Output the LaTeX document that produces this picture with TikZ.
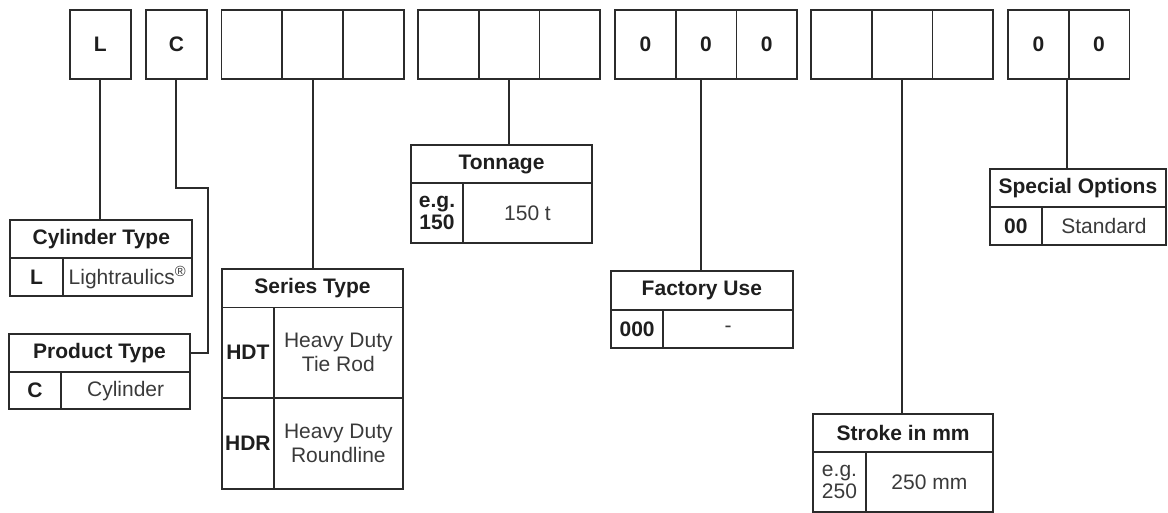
\documentclass[tikz,border=0pt]{standalone}
\usepackage{fontspec}
\setmainfont{Liberation Sans}
\definecolor{ln}{HTML}{2B2B2B}
\definecolor{tx}{HTML}{1E1E1E}
\definecolor{lt}{HTML}{3A3A3A}
\newcommand\fsz{\fontsize{21}{24}\selectfont}
\begin{document}
\begin{tikzpicture}[x=1pt,y=-1pt,
  cellbase/.style={draw=ln, line width=1.8pt, outer sep=0pt, inner sep=0pt, anchor=north west, align=center},
  box/.style={cellbase, minimum height=69pt, minimum width=60.7pt, font=\fsz\bfseries, text=tx},
  hd/.style={cellbase, font=\fsz\bfseries, text=tx},
  keyc/.style={cellbase, font=\fsz\bfseries, text=tx},
  valc/.style={cellbase, font=\fsz, text=lt},
  conn/.style={draw=ln, line width=1.8pt}]
\useasboundingbox (0,0) rectangle (1168,513);
% top row
\node[box] (bL) at (70,10) {L};
\node[box] (bC) at (146,10) {C};
\node[box] (s1) at (221.5,10) {};
\node[box] (s2) at (s1.north east) {};
\node[box] (s3) at (s2.north east) {};
\node[box] (t1) at (418,10) {};
\node[box] (t2) at (t1.north east) {};
\node[box] (t3) at (t2.north east) {};
\node[box] (f1) at (615,10) {0};
\node[box] (f2) at (f1.north east) {0};
\node[box] (f3) at (f2.north east) {0};
\node[box] (k1) at (811,10) {};
\node[box] (k2) at (k1.north east) {};
\node[box] (k3) at (k2.north east) {};
\node[box] (o1) at (1008,10) {0};
\node[box] (o2) at (o1.north east) {0};
% cylinder type
\node[hd, minimum width=182pt, minimum height=38pt] (cylh) at (10.3,220.3) {Cylinder Type};
\node[keyc, minimum width=52.4pt, minimum height=38pt] (cylk) at (cylh.south west) {L};
\node[valc, minimum width=129.6pt, minimum height=38pt] (cylv) at (cylk.north east) {Lightraulics\textsuperscript{\textregistered}};
% product type
\node[hd, minimum width=181.6pt, minimum height=38pt] (prodh) at (8.7,334) {Product Type};
\node[keyc, minimum width=52.3pt, minimum height=37.3pt] (prodk) at (prodh.south west) {C};
\node[valc, minimum width=129.3pt, minimum height=37.3pt] (prodv) at (prodk.north east) {Cylinder};
% series type
\node[hd, minimum width=181pt, minimum height=38.5pt] (serh) at (222,269) {Series Type};
\node[keyc, minimum width=51.7pt, minimum height=90.5pt] (serk1) at (serh.south west) {HDT};
\node[valc, minimum width=129.3pt, minimum height=90.5pt] (serv1) at (serk1.north east) {Heavy Duty\\Tie Rod};
\node[keyc, minimum width=51.7pt, minimum height=90.7pt] (serk2) at (serk1.south west) {HDR};
\node[valc, minimum width=129.3pt, minimum height=90.7pt] (serv2) at (serk2.north east) {Heavy Duty\\Roundline};
% tonnage
\node[hd, minimum width=181pt, minimum height=37.7pt] (tonh) at (411,145.3) {Tonnage};
\node[keyc, minimum width=52pt, minimum height=60.3pt, font=\fontsize{21}{22}\selectfont\bfseries] (tonk) at (tonh.south west) {e.g.\\150};
\node[valc, minimum width=129pt, minimum height=60.3pt] (tonv) at (tonk.north east) {150 t};
% factory use
\node[hd, minimum width=181.7pt, minimum height=38.7pt] (fach) at (611,271.3) {Factory Use};
\node[keyc, minimum width=52.3pt, minimum height=38pt] (fack) at (fach.south west) {000};
\node[valc, minimum width=129.4pt, minimum height=38pt] (facv) at (fack.north east) {-};
% stroke
\node[hd, minimum width=179.7pt, minimum height=37.7pt] (strh) at (813.3,414.3) {Stroke in mm};
\node[valc, minimum width=52.4pt, minimum height=60pt, font=\fontsize{21}{22}\selectfont] (strk) at (strh.south west) {e.g.\\250};
\node[valc, minimum width=127.3pt, minimum height=60pt] (strv) at (strk.north east) {250 mm};
% special options
\node[hd, minimum width=176.3pt, minimum height=38pt] (spch) at (989.7,169) {Special Options};
\node[keyc, minimum width=52.3pt, minimum height=37.7pt] (spck) at (spch.south west) {00};
\node[valc, minimum width=124pt, minimum height=37.7pt] (spcv) at (spck.north east) {Standard};
% connectors
\coordinate (cb) at (208,188);
\draw[conn] (bL.south) -- (bL.south |- cylh.north);
\draw[conn] (bC.south) |- (cb) |- (prodh.east);
\draw[conn] ([xshift=0.45pt]s2.south) -- ([xshift=0.45pt]s2.south |- serh.north);
\draw[conn] (t2.south) -- (t2.south |- tonh.north);
\draw[conn] ([xshift=-5pt]f2.south) -- ([xshift=-5pt]f2.south |- fach.north);
\draw[conn] (k2.south) -- (k2.south |- strh.north);
\draw[conn] ([xshift=-2pt]o1.south east) -- ([xshift=-2pt]o1.south east |- spch.north);
\end{tikzpicture}
\end{document}
